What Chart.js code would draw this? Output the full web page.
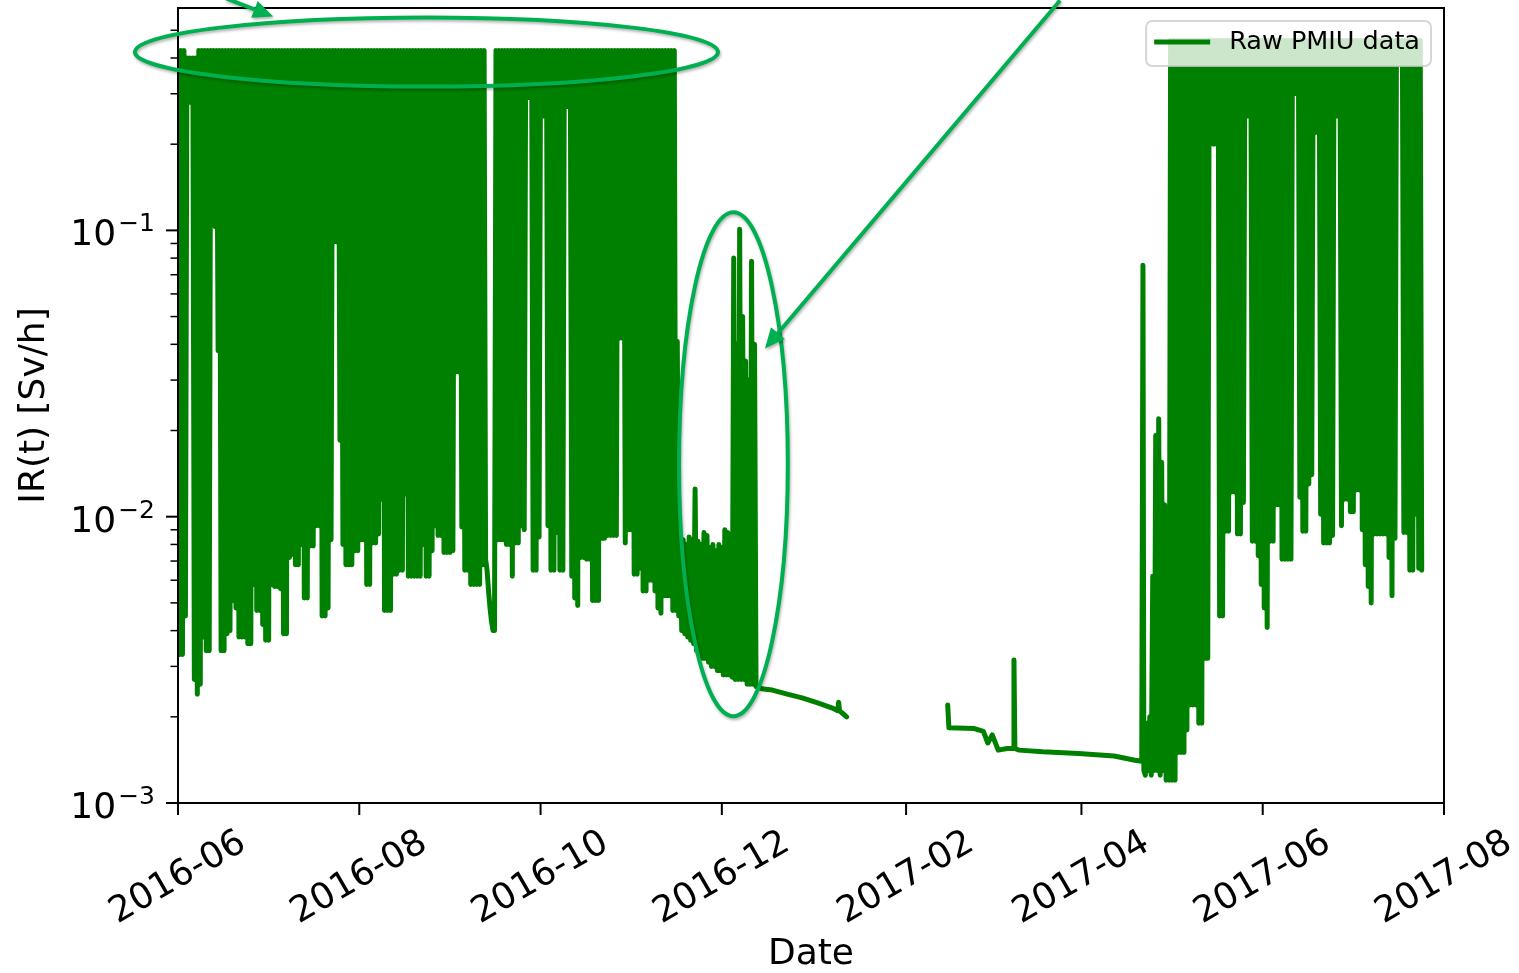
<!DOCTYPE html>
<html>
<head>
<meta charset="utf-8">
<title>Raw PMIU data</title>
<script src="https://cdn.jsdelivr.net/npm/chart.js@4.4.1/dist/chart.umd.min.js"></script>
<style>
  html, body { margin: 0; padding: 0; background: #fff; }
  #wrap { width: 1519px; height: 973px; }
</style>
</head>
<body>
<div id="wrap"><canvas id="pmiuChart" width="1519" height="973"></canvas></div>
<script>
// --- Data (x = days since 2016-06-01, y = dose rate in Sv/h) ---
const monthLabels = ['2016-06', '2016-08', '2016-10', '2016-12', '2017-02', '2017-04', '2017-06', '2017-08'];
const decadeTicks = [0.001, 0.01, 0.1];
const minorTicks = [0.002, 0.003, 0.004, 0.005, 0.006, 0.007, 0.008, 0.009,
                    0.02, 0.03, 0.04, 0.05, 0.06, 0.07, 0.08, 0.09,
                    0.2, 0.3, 0.4, 0.5];

// first burst, one high + one low reading per day from 2016-06-01
const hi2016 = [
  0.425, 0.425, 0.425, 0.40, 0.40, 0.40, 0.40, 0.425, 0.425, 0.425,          // 0
  0.425, 0.425, 0.425, 0.425, 0.425, 0.425, 0.425, 0.425, 0.425, 0.425,
  0.425, 0.425, 0.425, 0.425, 0.425, 0.425, 0.425, 0.425, 0.425, 0.425,
  0.425, 0.425, 0.425, 0.425, 0.425, 0.425, 0.425, 0.425, 0.425, 0.425,
  0.425, 0.425, 0.425, 0.425, 0.425, 0.425, 0.425, 0.425, 0.425, 0.425,     // 40
  0.425, 0.425, 0.425, 0.425, 0.425, 0.425, 0.425, 0.425, 0.425, 0.425,
  0.425, 0.425, 0.425, 0.425, 0.425, 0.425, 0.425, 0.425, 0.425, 0.425,
  0.425, 0.425, 0.425, 0.425, 0.425, 0.425, 0.425, 0.425, 0.425, 0.425,
  0.425, 0.425, 0.425, 0.425, 0.425, 0.425, 0.425, 0.425, 0.425, 0.425,     // 80
  0.425, 0.425, 0.425, 0.425, 0.425, 0.425, 0.425, 0.425, 0.425, 0.425,
  0.425, 0.425, 0.425, 0.425, 0.0065, 0.0048, 0.0040, 0.425, 0.425, 0.425,  // 100
  0.425, 0.425, 0.425, 0.425, 0.425, 0.425, 0.425, 0.425, 0.425, 0.425,
  0.425, 0.425, 0.425, 0.425, 0.425, 0.425, 0.425, 0.425, 0.425, 0.425,
  0.425, 0.425, 0.425, 0.425, 0.425, 0.425, 0.425, 0.425, 0.425, 0.425,
  0.425, 0.425, 0.425, 0.425, 0.425, 0.425, 0.425, 0.425, 0.425, 0.425,     // 140
  0.425, 0.425, 0.425, 0.425, 0.425, 0.425, 0.425, 0.425, 0.425, 0.425,
  0.425, 0.425, 0.425, 0.425, 0.425, 0.425, 0.425, 0.425, 0.041, 0.0083,    // 160
  0.0083, 0.0080, 0.0085, 0.0083, 0.0125, 0.0082, 0.0080, 0.0088, 0.0086, 0.0078,
  0.0080, 0.0076, 0.0080, 0.0078, 0.0090, 0.0088, 0.0085, 0.080, 0.040, 0.101,
  0.050, 0.035, 0.030, 0.078, 0.040
];
const lo2016 = [
  0.0033, 0.0033, 0.0045, 0.28, 0.28, 0.0027, 0.0024, 0.0026, 0.0038, 0.0034,     // 0
  0.0034, 0.136, 0.103, 0.038, 0.0034, 0.0034, 0.0039, 0.0040, 0.0051, 0.0048,
  0.0038, 0.0038, 0.0038, 0.0036, 0.0036, 0.0058, 0.0047, 0.0047, 0.0042, 0.0037,
  0.0037, 0.0058, 0.0057, 0.0057, 0.0056, 0.0039, 0.0039, 0.0072, 0.0074, 0.0068,
  0.0068, 0.0080, 0.0052, 0.0052, 0.0079, 0.0079, 0.0093, 0.0093, 0.0045, 0.0045, // 40
  0.0048, 0.0083, 0.091, 0.091, 0.0185, 0.0080, 0.0068, 0.0068, 0.0068, 0.0076,
  0.0076, 0.0083, 0.0083, 0.0058, 0.0058, 0.0081, 0.0081, 0.0087, 0.0115, 0.0047,
  0.0047, 0.0047, 0.0063, 0.0063, 0.0065, 0.0065, 0.0120, 0.0062, 0.0062, 0.0062,
  0.0062, 0.0062, 0.0080, 0.0062, 0.0062, 0.0076, 0.0093, 0.0086, 0.0086, 0.0075, // 80
  0.0075, 0.0075, 0.0076, 0.032, 0.032, 0.0092, 0.0065, 0.0065, 0.0058, 0.0058,
  0.0058, 0.0058, 0.0068, 0.0071, 0.0055, 0.0043, 0.0040, 0.0083, 0.0083, 0.0083, // 100
  0.0080, 0.0080, 0.0062, 0.0081, 0.0081, 0.0093, 0.0090, 0.29, 0.29, 0.0065,
  0.0065, 0.0085, 0.25, 0.25, 0.0093, 0.0065, 0.0065, 0.0088, 0.0065, 0.0065,
  0.27, 0.27, 0.0062, 0.0052, 0.0049, 0.0072, 0.0072, 0.0071, 0.0071, 0.0051,
  0.0051, 0.0051, 0.0084, 0.0084, 0.0086, 0.0086, 0.0086, 0.0086, 0.042, 0.042,   // 140
  0.0081, 0.0090, 0.0090, 0.0063, 0.0063, 0.0066, 0.0055, 0.0055, 0.0060, 0.0060,
  0.0055, 0.0048, 0.0046, 0.0053, 0.0053, 0.0053, 0.0047, 0.0047, 0.0045, 0.0040, // 160
  0.0039, 0.0038, 0.0037, 0.0036, 0.0034, 0.0033, 0.0032, 0.0032, 0.0031, 0.0030,
  0.0030, 0.0029, 0.0029, 0.0028, 0.0028, 0.0028, 0.00275, 0.0027, 0.0027, 0.0027,
  0.0027, 0.0026, 0.0026, 0.0026, 0.00255
];

// slow decay after the December burst
const tailDay = [197, 200, 205, 210, 215, 220, 222, 222.3, 222.6, 225];
const tailVal = [0.0025, 0.00248, 0.0024, 0.00233, 0.00224, 0.00215, 0.0021, 0.00225, 0.0021, 0.0020];

// quiet period Feb - Apr 2017
const quietDay = [259, 259.4, 268, 271, 272.5, 274, 276, 279, 281, 281.3, 281.6, 283, 291, 303, 315, 322, 324.3, 324.7, 325, 325.5];
const quietVal = [0.0022, 0.00183, 0.00182, 0.00178, 0.00162, 0.00173, 0.00153, 0.00155, 0.00155, 0.00316,
                  0.00155, 0.00153, 0.00151, 0.00149, 0.00146, 0.00141, 0.0014, 0.0755, 0.0013, 0.00125];

// second burst, daily high/low from 2017-04-23
const burst2017Start = '2017-04-23';
const hi2017 = [
  0.0019, 0.0020, 0.0062, 0.0192, 0.022, 0.0155, 0.011, 0.0063, 0.46, 0.46,
  0.46, 0.46, 0.46, 0.46, 0.46, 0.46, 0.46, 0.46, 0.46, 0.46,
  0.46, 0.46, 0.46, 0.46, 0.46, 0.46, 0.46, 0.46, 0.46, 0.46,
  0.46, 0.46, 0.46, 0.46, 0.46, 0.46, 0.46, 0.46, 0.46, 0.46,
  0.46, 0.46, 0.46, 0.46, 0.46, 0.46, 0.46, 0.46, 0.46, 0.46,
  0.46, 0.46, 0.46, 0.46, 0.46, 0.46, 0.46, 0.46, 0.46, 0.46,
  0.46, 0.46, 0.46, 0.46, 0.46, 0.46, 0.46, 0.46, 0.46, 0.46,
  0.46, 0.46, 0.46, 0.46, 0.46, 0.46, 0.46, 0.46, 0.46, 0.46,
  0.46, 0.46, 0.46, 0.46, 0.46, 0.46, 0.46, 0.46, 0.46, 0.46,
  0.46, 0.46, 0.46
];
const lo2017 = [
  0.0013, 0.00125, 0.0013, 0.0013, 0.00125, 0.0013, 0.0012, 0.0012, 0.0012, 0.0012,
  0.0015, 0.0015, 0.0015, 0.0018, 0.0022, 0.0022, 0.0022, 0.0019, 0.0019, 0.0032,
  0.0032, 0.20, 0.20, 0.20, 0.0045, 0.0045, 0.0089, 0.0089, 0.0122, 0.0122,
  0.0087, 0.0087, 0.0112, 0.25, 0.25, 0.0082, 0.0082, 0.0073, 0.0058, 0.0048,
  0.0041, 0.0082, 0.0082, 0.0110, 0.0110, 0.0071, 0.0071, 0.0071, 0.0071, 0.30,
  0.30, 0.0117, 0.0089, 0.0089, 0.0130, 0.0140, 0.22, 0.22, 0.0102, 0.0081,
  0.0081, 0.0081, 0.0086, 0.25, 0.25, 0.0093, 0.0115, 0.0115, 0.0104, 0.0104,
  0.0124, 0.0124, 0.0090, 0.0068, 0.0057, 0.0050, 0.0087, 0.0087, 0.0087, 0.0087,
  0.0087, 0.0072, 0.0053, 0.0084, 0.38, 0.38, 0.0088, 0.0088, 0.0065, 0.0065,
  0.0102, 0.0066, 0.0065
];

// hand-drawn notes on top of the plot, in data units [day, Sv/h]
const ringNotes = [
  { from: [-14.5, 0.318], to: [181.7, 0.554] },
  { from: [168.6, 0.00201], to: [205.2, 0.1156] }
];
const arrowNotes = [
  { from: [16.2, 0.646], to: [32.0, 0.558] },
  { from: [296.8, 0.635], to: [197.5, 0.0387] }
];

const FONT = '"DejaVu Sans", "Liberation Sans", sans-serif';
const lineGreen = '#008000';
const noteGreen = '#00b050';

function dayOf(s) {
  const [y, m, d] = s.split('-').map(Number);
  return (Date.UTC(y, m - 1, d || 1) - Date.UTC(2016, 5, 1)) / 864e5;
}

// each day: high reading, then low reading half a day later
function zigzag(start, hi, lo) {
  const pts = [];
  hi.forEach((h, i) => {
    pts.push({ x: start + i, y: h });
    pts.push({ x: start + i + 0.5, y: lo[i] });
  });
  return pts;
}

const series = [].concat(
  zigzag(0, hi2016, lo2016),
  tailDay.map((d, i) => ({ x: d, y: tailVal[i] })),
  [{ x: 240, y: null }],
  quietDay.map((d, i) => ({ x: d, y: quietVal[i] })),
  zigzag(dayOf(burst2017Start), hi2017, lo2017)
);

// --- frame, ticks and tick labels, matplotlib style ---
const axesPlugin = {
  id: 'axesFrame',
  afterDatasetsDraw(chart) {
    const { ctx, chartArea: a, scales: { x, y } } = chart;
    ctx.save();
    ctx.strokeStyle = '#000';
    ctx.fillStyle = '#000';
    ctx.lineWidth = 2;
    ctx.strokeRect(a.left, a.top, a.right - a.left, a.bottom - a.top);

    ctx.font = '36px ' + FONT;
    ctx.textAlign = 'center';
    ctx.textBaseline = 'middle';
    x.ticks.forEach((t, i) => {
      const px = x.getPixelForValue(t.value);
      ctx.beginPath();
      ctx.moveTo(px, a.bottom);
      ctx.lineTo(px, a.bottom + 12);
      ctx.stroke();
      ctx.save();
      ctx.translate(px, a.bottom + 75);
      ctx.rotate(-Math.PI / 6);
      ctx.fillText(monthLabels[i], 0, 0);
      ctx.restore();
    });

    ctx.textAlign = 'right';
    ctx.textBaseline = 'alphabetic';
    y.ticks.forEach(t => {
      const py = y.getPixelForValue(t.value);
      const len = t.major ? 12 : 7.5;
      ctx.lineWidth = t.major ? 2 : 1.5;
      ctx.beginPath();
      ctx.moveTo(a.left - len, py);
      ctx.lineTo(a.left, py);
      ctx.stroke();
      if (t.major) {
        const sup = '\u2212' + Math.abs(Math.round(Math.log10(t.value)));
        ctx.font = '25px ' + FONT;
        const supW = ctx.measureText(sup).width;
        ctx.fillText(sup, a.left - 23, py + 1);
        ctx.font = '36px ' + FONT;
        ctx.fillText('10', a.left - 25 - supW, py + 15);
      }
    });
    ctx.restore();
  }
};

// --- legend box in the upper right corner ---
const legendPlugin = {
  id: 'boxLegend',
  afterDatasetsDraw(chart) {
    const { ctx, chartArea: a } = chart;
    const ds = chart.data.datasets[0];
    ctx.save();
    ctx.font = '25.5px ' + FONT;
    const tw = ctx.measureText(ds.label).width;
    const bw = 83 + tw + 11, bh = 45;
    const bx = a.right - 13 - bw, by = a.top + 13;
    ctx.beginPath();
    ctx.roundRect(bx, by, bw, bh, 6);
    ctx.fillStyle = 'rgba(255,255,255,0.8)';
    ctx.fill();
    ctx.strokeStyle = 'rgba(204,204,204,0.8)';
    ctx.lineWidth = 2;
    ctx.stroke();
    ctx.strokeStyle = ds.borderColor;
    ctx.lineWidth = ds.borderWidth;
    ctx.beginPath();
    ctx.moveTo(bx + 8, by + 21);
    ctx.lineTo(bx + 64, by + 21);
    ctx.stroke();
    ctx.fillStyle = '#000';
    ctx.textBaseline = 'middle';
    ctx.fillText(ds.label, bx + 83, by + 21);
    ctx.restore();
  }
};

// --- green rings and arrows ---
const notesPlugin = {
  id: 'notes',
  afterDraw(chart) {
    const { ctx, scales: { x, y } } = chart;
    const toPx = p => [x.getPixelForValue(p[0]), y.getPixelForValue(p[1])];
    ctx.save();
    ctx.strokeStyle = noteGreen;
    ctx.fillStyle = noteGreen;
    ctx.lineWidth = 4;
    ctx.shadowColor = 'rgba(0,0,0,0.3)';
    ctx.shadowBlur = 3;
    ctx.shadowOffsetX = 1;
    ctx.shadowOffsetY = 2;
    ringNotes.forEach(n => {
      const [x1, y1] = toPx(n.from), [x2, y2] = toPx(n.to);
      ctx.beginPath();
      ctx.ellipse((x1 + x2) / 2, (y1 + y2) / 2, Math.abs(x2 - x1) / 2, Math.abs(y2 - y1) / 2, 0, 0, Math.PI * 2);
      ctx.stroke();
    });
    arrowNotes.forEach(n => {
      const [x1, y1] = toPx(n.from), [x2, y2] = toPx(n.to);
      const ang = Math.atan2(y2 - y1, x2 - x1);
      const head = 20, half = 9;
      const hx = x2 - head * Math.cos(ang), hy = y2 - head * Math.sin(ang);
      ctx.beginPath();
      ctx.moveTo(x1, y1);
      ctx.lineTo(hx, hy);
      ctx.stroke();
      ctx.beginPath();
      ctx.moveTo(x2, y2);
      ctx.lineTo(hx + half * Math.sin(ang), hy - half * Math.cos(ang));
      ctx.lineTo(hx - half * Math.sin(ang), hy + half * Math.cos(ang));
      ctx.closePath();
      ctx.fill();
    });
    ctx.restore();
  }
};

new Chart(document.getElementById('pmiuChart'), {
  type: 'line',
  data: {
    datasets: [{
      label: 'Raw PMIU data',
      data: series,
      borderColor: lineGreen,
      borderWidth: 5,
      borderJoinStyle: 'round',
      borderCapStyle: 'round',
      pointRadius: 0,
      fill: false,
      tension: 0,
      spanGaps: false
    }]
  },
  options: {
    responsive: false,
    animation: false,
    devicePixelRatio: 1,
    layout: { padding: { top: 8, right: 75, left: 0, bottom: 0 } },
    plugins: {
      legend: { display: false },
      tooltip: { enabled: false }
    },
    scales: {
      x: {
        type: 'linear',
        min: 0,
        max: dayOf('2017-08'),
        grid: { display: false },
        border: { display: false },
        ticks: { display: false, callback: (v, i) => monthLabels[i] },
        title: {
          display: true, text: 'Date', color: '#000',
          font: { family: FONT, size: 36, lineHeight: 1 },
          padding: { top: 0, bottom: 0 }
        },
        afterBuildTicks: s => { s.ticks = monthLabels.map(m => ({ value: dayOf(m) })); },
        afterFit: s => { s.height = 170; }
      },
      y: {
        type: 'logarithmic',
        min: 0.001,
        max: 0.598,
        grid: { display: false },
        border: { display: false },
        ticks: { display: false },
        title: {
          display: true, text: 'IR(t) [Sv/h]', color: '#000',
          font: { family: FONT, size: 36, lineHeight: 1.2 },
          padding: { top: 13, bottom: 0 }
        },
        afterBuildTicks: s => {
          s.ticks = decadeTicks.map(v => ({ value: v, major: true }))
            .concat(minorTicks.map(v => ({ value: v, major: false })));
        },
        afterFit: s => { s.width = 178; }
      }
    }
  },
  plugins: [axesPlugin, legendPlugin, notesPlugin]
});
</script>
</body>
</html>
